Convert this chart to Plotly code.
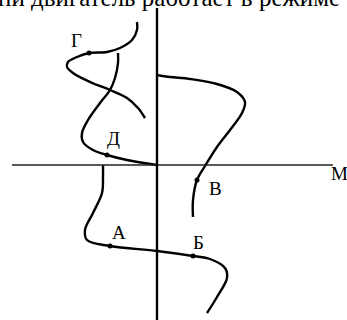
import plotly.graph_objects as go

# characteristic curves, torque M (x) vs speed (y), origin at the axes crossing
g_x = [-20, -20, -25, -37, -50, -68, -80, -89, -90, -84, -67, -47, -30, -19, -12]
g_y = [143, 135, 125, 117, 113, 112, 108, 103, 98, 92, 83, 75, 67, 57, 47]

d_x = [-39, -39, -42, -47, -57, -69, -75, -74, -64, -50, -30, 0]
d_y = [112, 102, 87, 75, 62, 45, 32, 23, 15, 10, 5, 0]

v_x = [0, 13, 33, 60, 80, 88, 85, 73, 60, 48, 40, 36, 36]
v_y = [90, 88, 86, 81, 73, 63, 52, 35, 18, -1, -15, -35, -52]

ab_x = [-54, -54, -55, -64, -72, -70, -47, 0, 36, 53, 68, 70, 60, 50]
ab_y = [0, -12, -28, -48, -65, -75, -81, -86, -91, -94, -103, -113, -132, -148]

# operating points
pt_names = ["Г", "Д", "В", "А", "Б"]
pt_x = [-68, -50, 40, -47, 36]
pt_y = [112, 10, -15, -81, -91]
lab_x = [-81, -44, 58, -38, 41]
lab_y = [125, 27, -23, -67, -77]

axis_h_x = [-145, 176]
axis_v_y = [157, -155]

fig = go.Figure()

line = dict(color="black", width=2.4, shape="spline", smoothing=1)
for xs, ys in [(g_x, g_y), (d_x, d_y), (v_x, v_y), (ab_x, ab_y)]:
    fig.add_trace(go.Scatter(x=xs, y=ys, mode="lines", line=line, hoverinfo="skip"))

fig.add_trace(go.Scatter(x=axis_h_x, y=[0, 0], mode="lines",
                         line=dict(color="#222", width=1.4), hoverinfo="skip"))
fig.add_trace(go.Scatter(x=[0, 0], y=axis_v_y, mode="lines",
                         line=dict(color="black", width=2.4), hoverinfo="skip"))

fig.add_trace(go.Scatter(x=pt_x, y=pt_y, mode="markers",
                         marker=dict(color="black", size=5), hoverinfo="skip"))

serif = "Liberation Serif, Times New Roman, serif"
for name, x, y in zip(pt_names, lab_x, lab_y):
    fig.add_annotation(x=x, y=y, text=name, showarrow=False,
                       font=dict(family=serif, size=19, color="black"))
fig.add_annotation(x=182, y=-8, text="М", showarrow=False,
                   font=dict(family=serif, size=19, color="black"))

# caption line from the page above, cut off at the top edge
fig.add_annotation(xref="paper", yref="paper", x=-0.012, y=0.959, xanchor="left", yanchor="bottom",
                   text="ни двигатель работает в режиме", showarrow=False,
                   font=dict(family=serif, size=25, color="black"))

fig.update_xaxes(range=[-157, 190], visible=False)
fig.update_yaxes(range=[-155, 165], visible=False)
fig.update_layout(width=347, height=320, margin=dict(l=0, r=0, t=0, b=0),
                  showlegend=False, plot_bgcolor="white", paper_bgcolor="white")

fig.write_html("out.html", config={"displayModeBar": False},
               post_script="document.body.style.margin='0';")
